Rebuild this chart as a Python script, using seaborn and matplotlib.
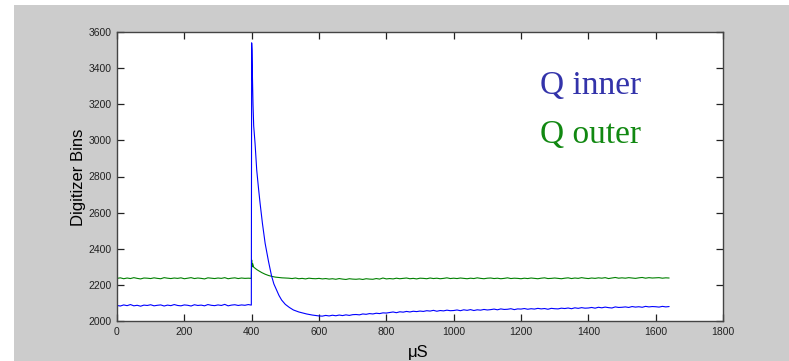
import numpy as np
import pandas as pd
import matplotlib
matplotlib.use("Agg")
import matplotlib.pyplot as plt
from matplotlib.patches import Rectangle
import seaborn as sns

# ---------------- data ----------------
xticks = [0, 200, 400, 600, 800, 1000, 1200, 1400, 1600, 1800]
yticks = [2000, 2200, 2400, 2600, 2800, 3000, 3200, 3400, 3600]

# Q inner (blue)
blue_pre_t = list(range(0, 400, 10)) + [399]
blue_pre_v = [2086, 2083, 2089, 2085, 2091, 2084, 2087, 2082, 2088, 2086,
              2090, 2084, 2087, 2089, 2083, 2088, 2085, 2091, 2086, 2084,
              2089, 2087, 2083, 2090, 2086, 2088, 2084, 2091, 2087, 2085,
              2089, 2086, 2092, 2084, 2088, 2090, 2086, 2089, 2087, 2091,
              2088]
blue_pulse_t = [400, 401, 402, 404, 406, 410, 415, 420, 425, 432, 440, 450,
                459, 466, 474, 481, 489, 500, 512, 524, 540, 563, 580, 600]
blue_pulse_v = [3540, 3500, 3380, 3200, 3080, 2985, 2836, 2740, 2652, 2540,
                2430, 2330, 2250, 2205, 2172, 2142, 2116, 2092, 2075, 2061,
                2050, 2039, 2033, 2028]
blue_post_t = list(range(610, 1650, 10))
blue_post_v = [2027, 2031, 2028, 2032, 2029, 2033, 2030, 2034, 2031, 2035,
               2036, 2034, 2039, 2037, 2041, 2039, 2043, 2041, 2045, 2044,
               2047, 2050, 2046, 2051, 2049, 2053, 2050, 2054, 2052, 2055,
               2053, 2057, 2055, 2059, 2054, 2058, 2056, 2060, 2057, 2058,
               2061, 2057, 2062, 2059, 2063, 2058, 2062, 2060, 2064, 2061,
               2063, 2066, 2062, 2067, 2064, 2065, 2068, 2063, 2067, 2066,
               2069, 2065, 2068, 2066, 2070, 2067, 2069, 2065, 2070, 2068,
               2067, 2071, 2069, 2072, 2068, 2073, 2070, 2074, 2071, 2072,
               2075, 2071, 2076, 2073, 2077, 2074, 2072, 2078, 2075, 2076,
               2078, 2075, 2080, 2077, 2079, 2076, 2081, 2078, 2080, 2079,
               2077, 2081, 2078, 2080]

# Q outer (green)
green_pre_t = list(range(0, 400, 10)) + [399]
green_pre_v = [2236, 2239, 2234, 2238, 2235, 2240, 2236, 2233, 2238, 2237,
               2235, 2239, 2236, 2234, 2240, 2237, 2235, 2238, 2236, 2239,
               2234, 2237, 2240, 2235, 2238, 2236, 2233, 2239, 2237, 2235,
               2238, 2236, 2240, 2234, 2237, 2239, 2235, 2238, 2236, 2237,
               2236]
green_pulse_t = [400, 401, 403, 406, 410, 415, 420, 430, 440, 450, 460, 470,
                 480, 490, 500]
green_pulse_v = [2338, 2300, 2318, 2298, 2292, 2285, 2279, 2268, 2259, 2252,
                 2247, 2243, 2241, 2239, 2238]
green_post_t = list(range(510, 1650, 10))
green_post_v = [2237, 2235, 2238, 2234, 2236, 2233, 2237, 2235, 2234, 2236,
                2233, 2235, 2232, 2234, 2231, 2235, 2232, 2230, 2234, 2232,
                2231, 2233, 2230, 2234, 2232, 2231, 2235, 2232, 2238, 2233,
                2235, 2233, 2237, 2234, 2236, 2238, 2234, 2236, 2233, 2237,
                2236, 2234, 2238, 2235, 2237, 2234, 2236, 2239, 2235, 2237,
                2235, 2238, 2236, 2234, 2237, 2235, 2239, 2236, 2234, 2237,
                2238, 2235, 2237, 2234, 2236, 2239, 2235, 2237, 2236, 2234,
                2237, 2235, 2238, 2236, 2234, 2237, 2239, 2235, 2236, 2238,
                2236, 2234, 2237, 2239, 2235, 2238, 2236, 2240, 2237, 2235,
                2238, 2236, 2239, 2237, 2240, 2235, 2238, 2241, 2237, 2239,
                2237, 2240, 2238, 2236, 2239, 2241, 2237, 2240, 2238, 2239,
                2240, 2237, 2239, 2238]

blue = pd.DataFrame({"t": blue_pre_t + blue_pulse_t + blue_post_t,
                     "v": blue_pre_v + blue_pulse_v + blue_post_v})
green = pd.DataFrame({"t": green_pre_t + green_pulse_t + green_post_t,
                      "v": green_pre_v + green_pulse_v + green_post_v})

# ---------------- figure ----------------
sns.set_style("ticks")
plt.rcParams["font.family"] = ["Liberation Sans", "DejaVu Sans"]

W, H = 789, 361
fig = plt.figure(figsize=(W / 100, H / 100), dpi=100, facecolor="white")
fig.add_artist(Rectangle((14 / W, 0), 1 - 14 / W, (H - 5) / H,
                         transform=fig.transFigure, facecolor="#cccccc",
                         edgecolor="none", zorder=-10))

ax = fig.add_axes([117 / W, 1 - 321 / H, (723 - 117) / W, (321 - 32) / H])
ax.set_facecolor("white")

sns.lineplot(data=green, x="t", y="v", ax=ax, color="#008000", lw=0.8,
             estimator=None, sort=False)
sns.lineplot(data=blue, x="t", y="v", ax=ax, color="#0000ff", lw=0.8,
             estimator=None, sort=False)

ax.set_xlim(0, 1800)
ax.set_ylim(2000, 3600)
ax.set_xticks(xticks)
ax.set_yticks(yticks)
ax.set_xlabel("")
ax.set_ylabel("")
ax.tick_params(direction="in", top=True, right=True, length=5, width=0.9,
               colors="#222222", labelsize=7.5, pad=4)
for s in ax.spines.values():
    s.set_visible(True)
    s.set_color("#444444")
    s.set_linewidth(1.0)

fig.text(79 / W, 1 - 177 / H, "Digitizer Bins", rotation=90, ha="center",
         va="center", fontsize=12, color="black")
fig.text(418 / W, 1 - 352 / H, "μS", ha="center", va="center", fontsize=12,
         color="black")

fig.text(540 / W, 1 - 93.5 / H, "Q inner", ha="left", va="baseline",
         fontsize=24, color="#3333aa", family=["Liberation Serif"])
fig.text(540 / W, 1 - 142.5 / H, "Q outer", ha="left", va="baseline",
         fontsize=24, color="#118811", family=["Liberation Serif"])

fig.savefig("out.png", dpi=100, facecolor=fig.get_facecolor())
